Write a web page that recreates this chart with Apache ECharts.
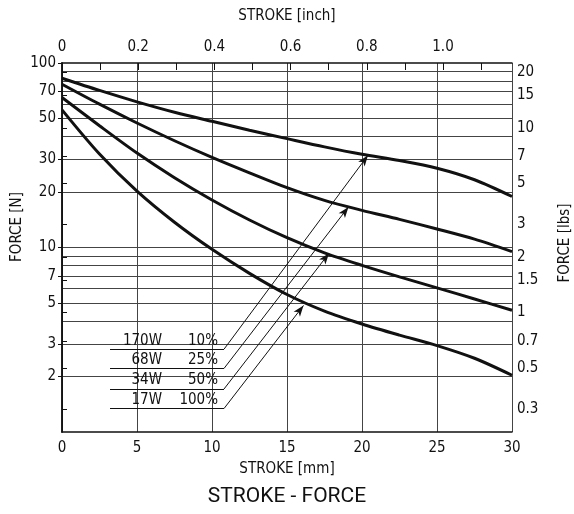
<!DOCTYPE html>
<html><head><meta charset="utf-8">
<script src="https://cdn.jsdelivr.net/npm/echarts@6/dist/echarts.min.js"></script>
<style>html,body{margin:0;padding:0;background:#fff}#c{width:574px;height:514px}</style>
</head><body><div id="c"></div>
<script>
// ---- data ----
const strokeMm = [0, 2.5, 5, 7.5, 10, 12.5, 15, 17.5, 20, 22.5, 25, 27.5, 30];
const force170W = [82.7, 71.0, 61.6, 54.1, 48.3, 43.2, 38.9, 35.1, 32.0, 29.6, 26.9, 23.3, 18.9];
const force68W  = [76.7, 59.8, 47.3, 37.9, 30.8, 25.4, 21.1, 18.0, 15.9, 14.2, 12.6, 11.1, 9.5];
const force34W  = [65, 45.7, 32.5, 23.9, 18.1, 14.1, 11.3, 9.35, 8.0, 6.93, 6.04, 5.26, 4.57];
const force17W  = [55.7, 32.1, 20.2, 13.7, 9.77, 7.24, 5.56, 4.52, 3.85, 3.35, 2.94, 2.51, 2.03];
const seriesNames = ['170W', '68W', '34W', '17W'];
const dutyLabels = ['10%', '25%', '50%', '100%'];

const forceNTicks = [2, 3, 5, 7, 10, 20, 30, 50, 70, 100];
const forceNGrid = [2, 3, 4, 5, 6, 7, 8, 9, 10, 20, 30, 40, 50, 60, 70, 80, 90];
const forceLbsTicks = [0.3, 0.5, 0.7, 1, 1.5, 2, 3, 5, 7, 10, 15, 20];
const strokeMmTicks = [0, 5, 10, 15, 20, 25, 30];
const strokeInchLabels = [0, 0.2, 0.4, 0.6, 0.8, 1.0];
const strokeInchTicks = [0, 0.1, 0.2, 0.3, 0.4, 0.5, 0.6, 0.7, 0.8, 0.9, 1.0, 1.1];

const N_PER_LBF = 4.44822;
const MM_PER_INCH = 25.4;

const FONT = "'Liberation Sans Narrow', 'DejaVu Sans Condensed', 'Liberation Sans', sans-serif";
const INK = '#111';

function curve(vals) { return strokeMm.map((x, i) => [x, vals[i]]); }

// annotation geometry (data coords: mm, N)
const leaders = [
  { y: 2.81, tip: [20.4, 31.6] },
  { y: 2.21, tip: [19.1, 16.6] },
  { y: 1.71, tip: [17.8, 9.3] },
  { y: 1.34, tip: [16.1, 4.85] }
];
const leaderStart = 3.2, leaderEnd = 10.8;

function markLines() {
  const data = [];
  leaders.forEach((l, i) => {
    data.push([
      { coord: [leaderStart, l.y], symbol: 'none',
        label: { show: true, position: 'insideEndTop', distance: [6, 1],
          formatter: '{a|' + seriesNames[i] + '}{b|' + dutyLabels[i] + '}',
          rich: {
            a: { width: 40, align: 'right', fontSize: 15, fontFamily: FONT, color: INK },
            b: { width: 56, align: 'right', fontSize: 15, fontFamily: FONT, color: INK }
          } } },
      { coord: [leaderEnd, l.y], symbol: 'none' }
    ]);
    data.push([
      { coord: [leaderEnd, l.y], symbol: 'none', label: { show: false } },
      { coord: l.tip, symbol: 'arrow', symbolSize: [6, 11] }
    ]);
  });
  return data;
}

const curves = [force170W, force68W, force34W, force17W];
const series = curves.map((c, i) => ({
  type: 'line', name: seriesNames[i], data: curve(c), xAxisIndex: 0, yAxisIndex: 0,
  smooth: 0.3, symbol: 'none', silent: true,
  lineStyle: { color: INK, width: 3 }
}));
series[0].markLine = {
  silent: true, animation: false, symbol: ['none', 'none'],
  lineStyle: { type: 'solid', color: INK, width: 1 },
  label: { show: false },
  data: markLines()
};

const axisLineStyle = { show: true, lineStyle: { color: INK, width: 1.5 } };
const labelStyle = { color: INK, fontFamily: FONT, fontSize: 15 };

const option = {
  animation: false,
  backgroundColor: '#fff',
  grid: { left: 62, right: 62, top: 63, bottom: 82, containLabel: false },
  xAxis: [
    { type: 'value', position: 'bottom', min: 0, max: 30, interval: 5,
      axisLine: axisLineStyle,
      axisTick: { show: false },
      axisLabel: Object.assign({ margin: 9, customValues: strokeMmTicks }, labelStyle),
      splitLine: { show: true, lineStyle: { color: '#444', width: 1 } } },
    { type: 'value', position: 'top', min: 0, max: 30 / MM_PER_INCH,
      axisLine: axisLineStyle,
      axisTick: { show: true, inside: true, length: 7, customValues: strokeInchTicks, lineStyle: { color: INK, width: 1 } },
      axisLabel: Object.assign({ margin: 8, customValues: strokeInchLabels,
        formatter: v => v === 0 ? '0' : v.toFixed(1) }, labelStyle),
      splitLine: { show: false } }
  ],
  yAxis: [
    { type: 'log', position: 'left', min: 1, max: 100, logBase: 10,
      axisLine: axisLineStyle,
      axisTick: { show: true, length: 4, customValues: forceNTicks, lineStyle: { color: INK } },
      axisLabel: Object.assign({ margin: 6, customValues: forceNTicks }, labelStyle),
      splitLine: { show: false } },
    { type: 'log', position: 'right', min: 1 / N_PER_LBF, max: 100 / N_PER_LBF, logBase: 10,
      axisLine: axisLineStyle,
      axisTick: { show: true, length: 5, customValues: forceLbsTicks, lineStyle: { color: INK } },
      axisLabel: Object.assign({ margin: 5, customValues: forceLbsTicks,
        formatter: v => String(v) }, labelStyle),
      splitLine: { show: false } },
    { type: 'log', position: 'left', min: 1, max: 100, logBase: 10,
      axisLine: { show: false },
      axisTick: { show: false, customValues: forceNGrid },
      axisLabel: { show: false, customValues: forceNGrid },
      splitLine: { show: true, lineStyle: { color: '#444', width: 1 } } }
  ],
  series: series,
  graphic: [
    { type: 'text', left: 'center', top: 9, style: { text: 'STROKE [inch]', font: '15px ' + FONT, fill: INK } },
    { type: 'text', left: 'center', top: 462, style: { text: 'STROKE [mm]', font: '15px ' + FONT, fill: INK } },
    { type: 'text', left: 'center', top: 486, style: { text: 'STROKE - FORCE', font: '21px Roboto, Arial, sans-serif', fill: INK } },
    { type: 'text', x: 10, y: 227, rotation: Math.PI / 2,
      style: { text: 'FORCE [N]', font: '15px ' + FONT, fill: INK, align: 'center', verticalAlign: 'top' } },
    { type: 'text', x: 558, y: 243, rotation: Math.PI / 2,
      style: { text: 'FORCE [lbs]', font: '15px ' + FONT, fill: INK, align: 'center', verticalAlign: 'top' } }
  ]
};

const chart = echarts.init(document.getElementById('c'), null, { renderer: 'canvas' });
chart.setOption(option);
</script>
</body></html>
